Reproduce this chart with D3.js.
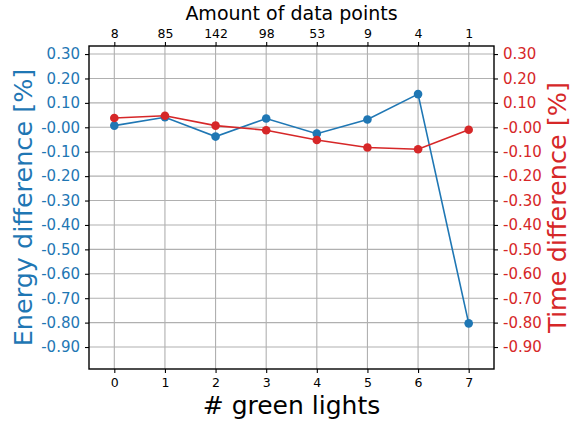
<!DOCTYPE html>
<html>
<head>
<meta charset="utf-8">
<script src="https://cdn.jsdelivr.net/npm/d3@7"></script>
<style>
  body { margin: 0; background: #fff; }
  svg { font-family: "DejaVu Sans", sans-serif; display: block; }
</style>
</head>
<body>
<div id="chart"></div>
<script>
'use strict';

// data
var greenLights = [0, 1, 2, 3, 4, 5, 6, 7];
var dataPoints = ['8', '85', '142', '98', '53', '9', '4', '1'];
var energyDiff = [0.007, 0.041, -0.038, 0.036, -0.026, 0.032, 0.136, -0.803];
var timeDiff = [0.038, 0.047, 0.007, -0.012, -0.052, -0.083, -0.090, -0.010];
var yTicks = [0.3, 0.2, 0.1, 0, -0.1, -0.2, -0.3, -0.4, -0.5, -0.6, -0.7, -0.8, -0.9];
var yTickLabels = ['0.30', '0.20', '0.10', '-0.00', '-0.10', '-0.20', '-0.30', '-0.40',
    '-0.50', '-0.60', '-0.70', '-0.80', '-0.90'];

var blue = '#1f77b4';
var red = '#d62728';

var stage = { width: 571, height: 423 };
var margin = { top: 46, right: 77, bottom: 54, left: 89 };
var w = stage.width - margin.left - margin.right;
var h = stage.height - margin.top - margin.bottom;

var x = d3.scaleLinear().domain([-0.5, 7.5]).range([0, w]);
var yLeft = d3.scaleLinear().domain([-0.99, 0.333]).range([h, 0]);
var yRight = d3.scaleLinear().domain([-0.99, 0.333]).range([h, 0]);

var svg = d3.select('#chart')
    .append('svg')
    .attr('width', stage.width)
    .attr('height', stage.height);

var plot = svg.append('g')
    .attr('transform', 'translate(' + margin.left + ',' + margin.top + ')');

// GRID
var grid = plot.append('g').attr('class', 'grid');
grid.selectAll('line.v').data(greenLights).enter()
    .append('line')
    .attr('x1', function(d) { return x(d); })
    .attr('x2', function(d) { return x(d); })
    .attr('y1', 0).attr('y2', h)
    .attr('stroke', '#b0b0b0').attr('stroke-width', 1.1);
grid.selectAll('line.h').data(yTicks).enter()
    .append('line')
    .attr('x1', 0).attr('x2', w)
    .attr('y1', function(d) { return yLeft(d); })
    .attr('y2', function(d) { return yLeft(d); })
    .attr('stroke', '#b0b0b0').attr('stroke-width', 1.1);

// AXES
var styleAxis = function(g, color, size) {
    g.select('.domain').remove();
    g.selectAll('.tick line').attr('stroke', '#000').attr('stroke-width', 1.1);
    g.selectAll('.tick text')
        .attr('fill', color)
        .attr('font-size', size)
        .attr('font-family', '"DejaVu Sans", sans-serif');
};

plot.append('g')
    .attr('transform', 'translate(0,' + h + ')')
    .call(d3.axisBottom(x).tickValues(greenLights).tickSize(4).tickPadding(5))
    .call(styleAxis, '#000', 12.5);

plot.append('g')
    .call(d3.axisTop(x).tickValues(greenLights).tickSize(4).tickPadding(4)
        .tickFormat(function(d, i) { return dataPoints[i]; }))
    .call(styleAxis, '#000', 12.5);

plot.append('g')
    .call(d3.axisLeft(yLeft).tickValues(yTicks).tickSize(4).tickPadding(5)
        .tickFormat(function(d, i) { return yTickLabels[i]; }))
    .call(styleAxis, blue, 15);

plot.append('g')
    .attr('transform', 'translate(' + w + ',0)')
    .call(d3.axisRight(yRight).tickValues(yTicks).tickSize(4).tickPadding(5)
        .tickFormat(function(d, i) { return yTickLabels[i]; }))
    .call(styleAxis, red, 15);

// SERIES
var drawSeries = function(values, scale, color) {
    var pts = greenLights.map(function(d, i) { return [d, values[i]]; });
    var line = d3.line()
        .x(function(d) { return x(d[0]); })
        .y(function(d) { return scale(d[1]); });
    plot.append('path')
        .datum(pts)
        .attr('d', line)
        .attr('fill', 'none')
        .attr('stroke', color)
        .attr('stroke-width', 1.6);
    plot.append('g').selectAll('circle').data(pts).enter()
        .append('circle')
        .attr('cx', function(d) { return x(d[0]); })
        .attr('cy', function(d) { return scale(d[1]); })
        .attr('r', 4.3)
        .attr('fill', color);
};
drawSeries(energyDiff, yLeft, blue);
drawSeries(timeDiff, yRight, red);

// FRAME
plot.append('rect')
    .attr('x', 0).attr('y', 0)
    .attr('width', w).attr('height', h)
    .attr('fill', 'none')
    .attr('stroke', '#000')
    .attr('stroke-width', 1.4);

// LABELS
svg.append('text')
    .attr('x', margin.left + w / 2).attr('y', 20)
    .attr('text-anchor', 'middle')
    .attr('font-size', 19)
    .text('Amount of data points');

svg.append('text')
    .attr('x', margin.left + w / 2).attr('y', 414)
    .attr('text-anchor', 'middle')
    .attr('font-size', 25)
    .text('# green lights');

svg.append('text')
    .attr('transform', 'translate(32,' + (margin.top + h / 2) + ') rotate(-90)')
    .attr('text-anchor', 'middle')
    .attr('font-size', 25.5)
    .attr('fill', blue)
    .text('Energy difference [%]');

svg.append('text')
    .attr('transform', 'translate(566,' + (margin.top + h / 2) + ') rotate(-90)')
    .attr('text-anchor', 'middle')
    .attr('font-size', 25.5)
    .attr('fill', red)
    .text('Time difference [%]');
</script>
</body>
</html>
